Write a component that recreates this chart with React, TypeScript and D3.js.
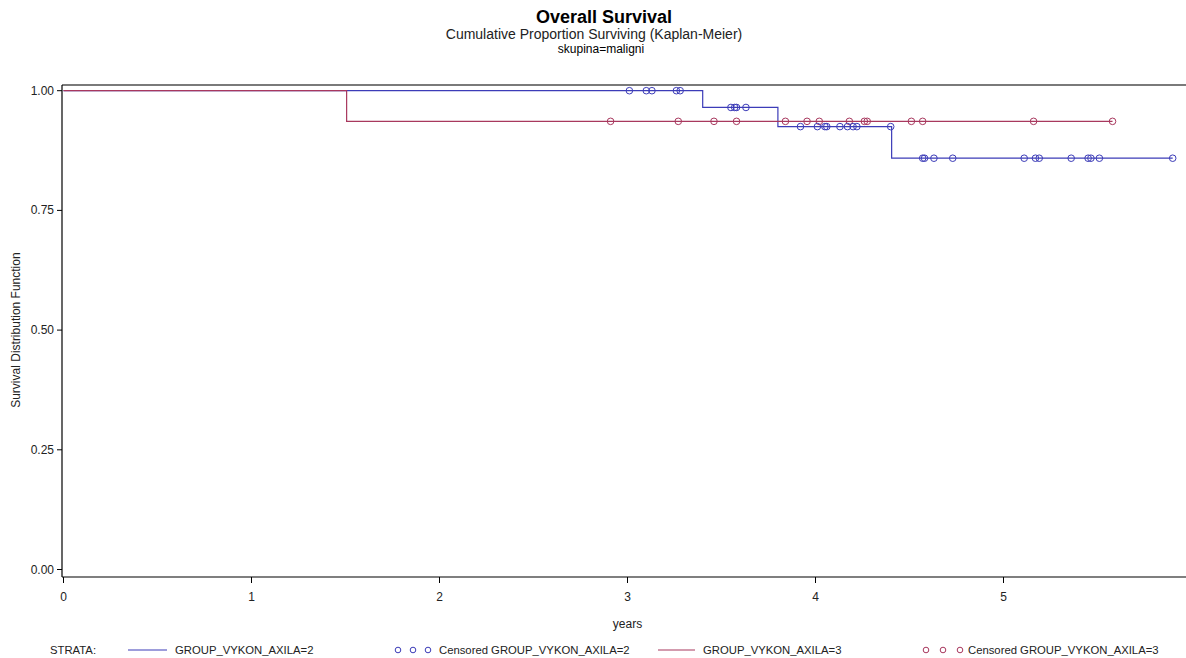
import React from "react";
import * as d3 from "d3";

const W = 1186;
const H = 658;

const xTicks = [0, 1, 2, 3, 4, 5];
const yTicks = [0, 0.25, 0.5, 0.75, 1.0];

// Group 2 (blue)
const blueEventTimes = [3.40, 3.80, 4.405];
const blueSurv = [1.0, 0.965, 0.925, 0.859];
const blueEnd = 5.90;
const blueCensorTimes = [
  3.01, 3.10, 3.13, 3.26, 3.28,
  3.55, 3.57, 3.58, 3.63,
  3.92, 4.01, 4.05, 4.06, 4.13, 4.17, 4.20, 4.22, 4.40,
  4.57, 4.58, 4.63, 4.73, 5.11, 5.17, 5.19, 5.36, 5.45, 5.465, 5.51, 5.90,
];

// Group 3 (red)
const redEventTimes = [1.506];
const redSurv = [1.0, 0.936];
const redEnd = 5.58;
const redCensorTimes = [
  2.91, 3.27, 3.46, 3.58, 3.84, 3.955, 4.02, 4.18, 4.26, 4.275, 4.51, 4.57, 5.16, 5.58,
];

const BLUE = "#3c3cb8";
const RED = "#a8385e";
const FONT = "Arial, 'Liberation Sans', sans-serif";

function survAt(t: number, events: number[], surv: number[]) {
  let s = surv[0];
  for (let i = 0; i < events.length; i++) if (t >= events[i]) s = surv[i + 1];
  return s;
}

function stepPoints(events: number[], surv: number[], end: number): [number, number][] {
  const pts: [number, number][] = [[0, surv[0]]];
  events.forEach((t, i) => {
    pts.push([t, surv[i]]);
    pts.push([t, surv[i + 1]]);
  });
  pts.push([end, surv[surv.length - 1]]);
  return pts;
}

export default function App() {
  const x = d3.scaleLinear().domain([0, 6]).range([63.5, 63.5 + 6 * 188]);
  const y = d3.scaleLinear().domain([0, 1]).range([569.5, 90.7]);
  const line = d3.line<[number, number]>().x((d) => x(d[0])).y((d) => y(d[1]));

  const axisLeft = 62;
  const axisBottom = 577;
  const plotTop = 85;

  const blueLine = line(stepPoints(blueEventTimes, blueSurv, blueEnd)) || "";
  const redLine = line(stepPoints(redEventTimes, redSurv, redEnd)) || "";

  return (
    <svg width={W} height={H} style={{ position: "absolute", left: 0, top: 0, background: "#fff" }} fontFamily={FONT}>
      <rect x={0} y={0} width={W} height={H} fill="#fff" />
      {/* Titles */}
      <text x={604} y={23} textAnchor="middle" fontSize={18} fontWeight="bold" fill="#000">Overall Survival</text>
      <text x={594} y={39} textAnchor="middle" fontSize={14} fill="#222">Cumulative Proportion Surviving (Kaplan-Meier)</text>
      <text x={601} y={53} textAnchor="middle" fontSize={12} fill="#000">skupina=maligni</text>

      {/* frame */}
      <line x1={axisLeft} x2={W} y1={plotTop} y2={plotTop} stroke="#7a7a7a" strokeWidth={2} />
      <line x1={axisLeft} x2={axisLeft} y1={plotTop} y2={axisBottom} stroke="#000" strokeWidth={1.2} />
      <line x1={axisLeft} x2={W} y1={axisBottom} y2={axisBottom} stroke="#000" strokeWidth={1.2} />

      {/* y ticks */}
      {yTicks.map((t) => (
        <g key={"y" + t}>
          <line x1={axisLeft - 5} x2={axisLeft} y1={y(t)} y2={y(t)} stroke="#000" strokeWidth={1} />
          <text x={axisLeft - 8} y={y(t) + 4} textAnchor="end" fontSize={12} fill="#222">{t.toFixed(2)}</text>
        </g>
      ))}
      <text transform={`translate(20, ${y(0.5)}) rotate(-90)`} textAnchor="middle" fontSize={12} fill="#222">Survival Distribution Function</text>

      {/* x ticks */}
      {xTicks.map((t) => (
        <g key={"x" + t}>
          <line x1={x(t)} x2={x(t)} y1={axisBottom} y2={axisBottom + 6} stroke="#000" strokeWidth={1} />
          <text x={x(t)} y={601} textAnchor="middle" fontSize={12} fill="#222">{t}</text>
        </g>
      ))}
      <text x={x(3)} y={628} textAnchor="middle" fontSize={12} fill="#222">years</text>

      {/* curves */}
      <path d={blueLine} fill="none" stroke={BLUE} strokeWidth={1.2} />
      <path d={redLine} fill="none" stroke={RED} strokeWidth={1.2} />

      {redCensorTimes.map((t, i) => (
        <circle key={"rc" + i} cx={x(t)} cy={y(survAt(t, redEventTimes, redSurv))} r={3.3} fill="none" stroke={RED} strokeWidth={1} />
      ))}
      {blueCensorTimes.map((t, i) => (
        <circle key={"bc" + i} cx={x(t)} cy={y(survAt(t, blueEventTimes, blueSurv))} r={3.3} fill="none" stroke={BLUE} strokeWidth={1} />
      ))}

      {/* legend */}
      <g fontSize={11.3} fill="#222">
        <text x={50} y={654}>STRATA:</text>
        <line x1={128} x2={167} y1={650} y2={650} stroke={BLUE} strokeWidth={1.2} />
        <text x={175} y={654}>GROUP_VYKON_AXILA=2</text>
        {[398, 413, 428].map((cx) => (
          <circle key={"lb" + cx} cx={cx} cy={650} r={2.8} fill="none" stroke={BLUE} strokeWidth={1} />
        ))}
        <text x={439} y={654}>Censored GROUP_VYKON_AXILA=2</text>
        <line x1={658} x2={695} y1={650} y2={650} stroke={RED} strokeWidth={1.2} />
        <text x={703} y={654}>GROUP_VYKON_AXILA=3</text>
        {[926, 943, 960].map((cx) => (
          <circle key={"lr" + cx} cx={cx} cy={650} r={2.8} fill="none" stroke={RED} strokeWidth={1} />
        ))}
        <text x={968} y={654}>Censored GROUP_VYKON_AXILA=3</text>
      </g>
    </svg>
  );
}
